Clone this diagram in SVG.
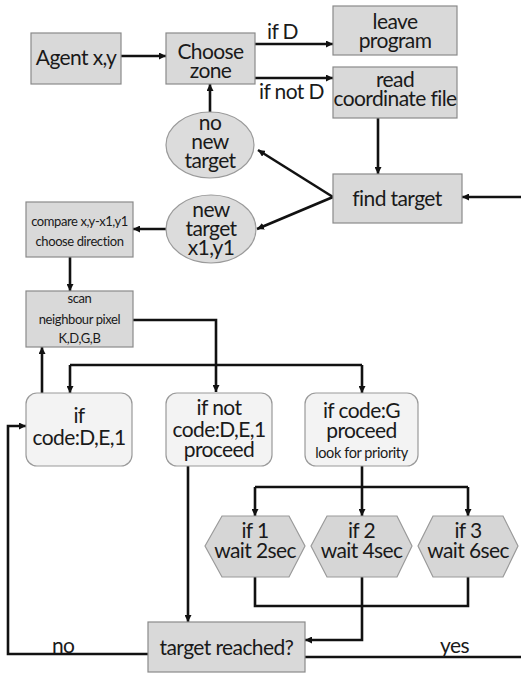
<svg xmlns="http://www.w3.org/2000/svg" width="521" height="673" viewBox="0 0 521 673">
<defs>
<marker id="ah" viewBox="0 0 10 10" refX="10" refY="5" markerWidth="7" markerHeight="7" markerUnits="userSpaceOnUse" orient="auto"><path d="M0,0 L10,5 L0,10 z" fill="#111"/></marker>
<style>
.box{fill:#d9d9d9;stroke:#8a8a8a;stroke-width:1.2}
.ell{fill:#dcdcdc;stroke:#9a9a9a;stroke-width:1.2}
.rbox{fill:#f3f3f3;stroke:#9a9a9a;stroke-width:1.2}
.hex{fill:#d6d6d6;stroke:#9a9a9a;stroke-width:1.2}
.ln{fill:none;stroke:#111;stroke-width:2.6}
.ar{fill:none;stroke:#111;stroke-width:2.6;marker-end:url(#ah)}
text{font-family:Lato,"Open Sans","DejaVu Sans",sans-serif;fill:#1a1a1a;text-anchor:middle;letter-spacing:-0.6px}
.t{font-size:21px}
.s{font-size:13px;letter-spacing:-0.4px}
.m{font-size:14.5px;letter-spacing:-0.4px}
.l{text-anchor:start}
</style>
</defs>
<g id="connectors">
<path class="ar" d="M121,56 H166"/>
<path class="ar" d="M255,44 H333"/>
<path class="ar" d="M255,78 H333"/>
<path class="ar" d="M378,118 V174"/>
<path class="ar" d="M521,197 H462"/>
<path class="ar" d="M333,197 L258,150"/>
<path class="ar" d="M333,197 L257,229"/>
<path class="ar" d="M210,112 V84"/>
<path class="ar" d="M166,229 H133"/>
<path class="ar" d="M70,257 V291"/>
<path class="ar" d="M133,320 H216 V392"/>
<path class="ar" d="M42,393 V347"/>
<path class="ln" d="M70,365 H362"/>
<path class="ar" d="M70,365 V393"/>
<path class="ar" d="M362,365 V393"/>
<path class="ar" d="M188,466 V622"/>
<path class="ln" d="M362,466 V487"/>
<path class="ln" d="M255,487 H468"/>
<path class="ar" d="M255,487 V516"/>
<path class="ar" d="M362,487 V516"/>
<path class="ar" d="M468,487 V516"/>
<path class="ln" d="M255,577 V606 H468 V577"/>
<path class="ar" d="M362,577 V640 H305"/>
<path class="ar" d="M148,654 H8 V426 H26"/>
<path class="ln" d="M305,657 H521"/>
<text class="t l" x="267" y="39">if D</text>
<text class="t l" x="259" y="99">if not D</text>
<text class="t l" x="52" y="653">no</text>
<text class="t l" x="440" y="653">yes</text>
</g>
<g id="agent"><rect class="box" x="31" y="33" width="90" height="51"/><text class="t" x="76" y="65">Agent x,y</text></g>
<g id="choose"><rect class="box" x="166" y="33" width="89" height="51"/><text class="t" x="210.5" y="59">Choose</text><text class="t" x="210.5" y="78">zone</text></g>
<g id="leave"><rect class="box" x="333" y="6" width="124" height="49"/><text class="t" x="395" y="29">leave</text><text class="t" x="395" y="48">program</text></g>
<g id="read"><rect class="box" x="333" y="67" width="124" height="51"/><text class="t" x="395" y="87">read</text><text class="t" x="395" y="106">coordinate file</text></g>
<g id="find"><rect class="box" x="333" y="174" width="129" height="49"/><text class="t" x="397" y="206">find target</text></g>
<g id="nonew"><ellipse class="ell" cx="210" cy="145" rx="44" ry="33"/><text class="t" x="210" y="130">no</text><text class="t" x="210" y="149">new</text><text class="t" x="210" y="168">target</text></g>
<g id="newtarget"><ellipse class="ell" cx="211" cy="229" rx="45" ry="34"/><text class="t" x="211" y="217">new</text><text class="t" x="211" y="236">target</text><text class="t" x="211" y="255">x1,y1</text></g>
<g id="compare"><rect class="box" x="26" y="202" width="107" height="55"/><text class="s" x="79.5" y="226">compare x,y-x1,y1</text><text class="s" x="79.5" y="246">choose direction</text></g>
<g id="scan"><rect class="box" x="26" y="291" width="107" height="56"/><text class="s" x="79.5" y="303">scan</text><text class="s" x="79.5" y="324">neighbour pixel</text><text class="s" x="79.5" y="343">K,D,G,B</text></g>
<g id="ifcode"><rect class="rbox" x="26" y="393" width="106" height="73" rx="11"/><text class="t" x="79" y="423">if</text><text class="t" x="79" y="445">code:D,E,1</text></g>
<g id="ifnot"><rect class="rbox" x="166" y="393" width="106" height="73" rx="11"/><text class="t" x="219" y="415">if not</text><text class="t" x="219" y="437">code:D,E,1</text><text class="t" x="219" y="457">proceed</text></g>
<g id="ifg"><rect class="rbox" x="305" y="393" width="113" height="73" rx="11"/><text class="t" x="361.5" y="418">if code:G</text><text class="t" x="361.5" y="438">proceed</text><text class="m" x="361.5" y="458">look for priority</text></g>
<g id="hex1"><polygon class="hex" points="205,546 222,516 289,516 305,546 289,577 222,577"/><text class="t" x="255" y="538">if 1</text><text class="t" x="255" y="558">wait 2sec</text></g>
<g id="hex2"><polygon class="hex" points="311,546 327,516 397,516 412,546 397,577 327,577"/><text class="t" x="361.5" y="538">if 2</text><text class="t" x="361.5" y="558">wait 4sec</text></g>
<g id="hex3"><polygon class="hex" points="418,546 433,516 503,516 518,546 503,577 433,577"/><text class="t" x="468" y="538">if 3</text><text class="t" x="468" y="558">wait 6sec</text></g>
<g id="reached"><rect class="box" x="148" y="622" width="157" height="50"/><text class="t" x="226.5" y="655">target reached?</text></g>
</svg>
